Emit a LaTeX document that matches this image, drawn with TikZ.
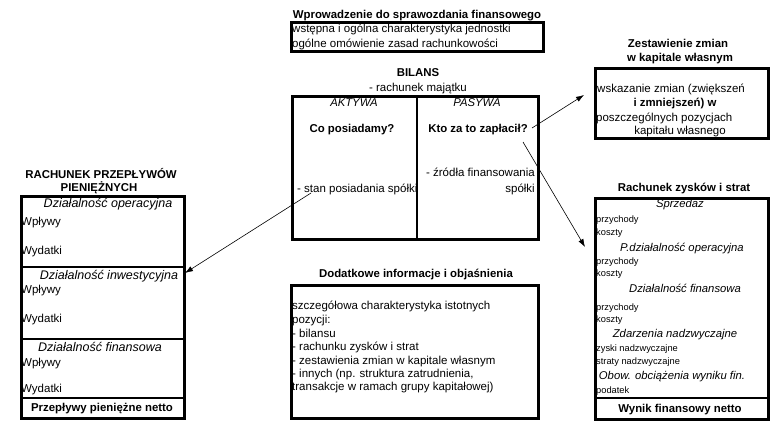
\documentclass[tikz,border=0pt]{standalone}
\usepackage{fontspec}
\setmainfont{Liberation Sans}
\usetikzlibrary{arrows.meta}
\begin{document}
\begin{tikzpicture}[x=1pt,y=-1pt,
  frame/.style={draw,line width=2.8pt,inner sep=0pt,anchor=north west},
  txt/.style={inner sep=0pt,font=\fontsize{11.5}{13}\selectfont,text height=8pt,text depth=0pt},
  ttl/.style={inner sep=0pt,font=\fontsize{11.4}{13}\selectfont\bfseries,text height=8pt,text depth=0pt},
  itx/.style={inner sep=0pt,font=\fontsize{11.3}{13}\selectfont\itshape,text height=8pt,text depth=0pt},
  itl/.style={itx,font=\fontsize{12.5}{14}\selectfont\itshape},
  sm/.style={inner sep=0pt,font=\fontsize{9.3}{11}\selectfont,text height=6pt,text depth=0pt,anchor=west},
  lft/.style={txt,anchor=west},
  arr/.style={-{Latex[length=8pt,width=5.5pt]},line width=0.6pt},
  sepline/.style={line width=1.8pt}]
\useasboundingbox (0,0) rectangle (775,426);

% ---------- Wprowadzenie ----------
\node[ttl] (wt) at (417,14) {Wprowadzenie do sprawozdania finansowego};
\node[frame,minimum width=252pt,minimum height=29pt] (wprow) at (290,21) {};
\node[lft] (w1) at (292,28) {wstępna i ogólna charakterystyka jednostki};
\node[lft] (w2) at (292,43) {ogólne omówienie zasad rachunkowości};

% ---------- Bilans ----------
\node[ttl] (bt) at (418,72) {BILANS};
\node[txt] (bs) at (418,87) {- rachunek majątku};
\node[frame,minimum width=246pt,minimum height=143pt] (bil) at (291,95) {};
\draw[sepline] (417,0 |- bil.north) -- (417,0 |- bil.south);
\node[itx] (akt) at (354,102) {AKTYWA};
\node[itx] (pas) at (477,102) {PASYWA};
\node[ttl] (co) at (352,128) {Co posiadamy?};
\node[ttl] (kto) at (478,128) {Kto za to zapłacił?};
\node[txt,anchor=east] (zr1) at (535,172) {- źródła finansowania};
\node[txt,anchor=east] (zr2) at (535,188) {spółki};
\node[lft] (stan) at (297,188) {- stan posiadania spółki};

% ---------- Dodatkowe ----------
\node[ttl] (dt) at (416,273) {Dodatkowe informacje i objaśnienia};
\node[frame,minimum width=247pt,minimum height=133pt] (dod) at (290,284) {};
\node[lft] (d1) at (292,305) {szczegółowa charakterystyka istotnych};
\node[lft] (d2) at (292,319) {pozycji:};
\node[lft] (d3) at (292,333) {- bilansu};
\node[lft] (d4) at (292,346) {- rachunku zysków i strat};
\node[lft] (d5) at (292,360) {- zestawienia zmian w kapitale własnym};
\node[lft] (d6) at (292,373) {- innych (np. struktura zatrudnienia,};
\node[lft] (d7) at (292,386) {transakcje w ramach grupy kapitałowej)};

% ---------- Rachunek przepływów ----------
\node[ttl] (ct1) at (101,174) {RACHUNEK PRZEPŁYWÓW};
\node[ttl] (ct2) at (99,187) {PIENIĘŻNYCH};
\node[frame,minimum width=163pt,minimum height=222pt] (cf) at (20,195) {};
\draw[sepline] (cf.west |- 0,267) -- (cf.east |- 0,267);
\draw[sepline] (cf.west |- 0,339) -- (cf.east |- 0,339);
\draw[sepline] (cf.west |- 0,398) -- (cf.east |- 0,398);
\node[itl] (c1) at (108,203) {Działalność operacyjna};
\node[lft] (c1a) at (21,221) {Wpływy};
\node[lft] (c1b) at (21,250) {Wydatki};
\node[itl] (c2) at (109,275) {Działalność inwestycyjna};
\node[lft] (c2a) at (21,289) {Wpływy};
\node[lft] (c2b) at (21,318) {Wydatki};
\node[itl] (c3) at (100,347) {Działalność finansowa};
\node[lft] (c3a) at (21,362) {Wpływy};
\node[lft] (c3b) at (21,388) {Wydatki};
\node[ttl] (cn) at (102,407) {Przepływy pieniężne netto};

% ---------- Zestawienie zmian ----------
\node[ttl] (zt1) at (678,43) {Zestawienie zmian};
\node[ttl] (zt2) at (680,57) {w kapitale własnym};
\node[frame,minimum width=173pt,minimum height=70pt] (zest) at (594,67) {};
\node[lft] (z1) at (597,88) {wskazanie zmian (zwiększeń};
\node[ttl] (z2) at (675,102) {i zmniejszeń) w};
\node[lft] (z3) at (596,117) {poszczególnych pozycjach};
\node[txt] (z4) at (680,130) {kapitału własnego};

% ---------- Rachunek zysków i strat ----------
\node[ttl] (rt) at (684,187) {Rachunek zysków i strat};
\node[frame,minimum width=173pt,minimum height=221pt] (rzis) at (594,197) {};
\draw[sepline] (rzis.west |- 0,398) -- (rzis.east |- 0,398);
\node[itx] (r1) at (680,203) {Sprzedaż};
\node[sm] (r1a) at (596,219) {przychody};
\node[sm] (r1b) at (596,232) {koszty};
\node[itx] (r2) at (682,247) {P.działalność operacyjna};
\node[sm] (r2a) at (596,261) {przychody};
\node[sm] (r2b) at (596,273) {koszty};
\node[itx] (r3) at (685,288) {Działalność finansowa};
\node[sm] (r3a) at (596,307) {przychody};
\node[sm] (r3b) at (596,319) {koszty};
\node[itx] (r4) at (675,333) {Zdarzenia nadzwyczajne};
\node[sm] (r4a) at (596,348) {zyski nadzwyczajne};
\node[sm] (r4b) at (596,361) {straty nadzwyczajne};
\node[itx] (r5) at (672,375) {Obow. obciążenia wyniku fin.};
\node[sm] (r5a) at (596,390) {podatek};
\node[ttl] (rn) at (680,408) {Wynik finansowy netto};

% ---------- Arrows ----------
\coordinate (a1s) at (532,128);
\coordinate (a1e) at (584,95);
\coordinate (a2s) at (523,142);
\coordinate (a2e) at (585,247);
\coordinate (a3s) at (311,193);
\coordinate (a3e) at (185,273);
\draw[arr] (a1s) -- (a1e);
\draw[arr] (a2s) -- (a2e);
\draw[arr] (a3s) -- (a3e);
\end{tikzpicture}
\end{document}
